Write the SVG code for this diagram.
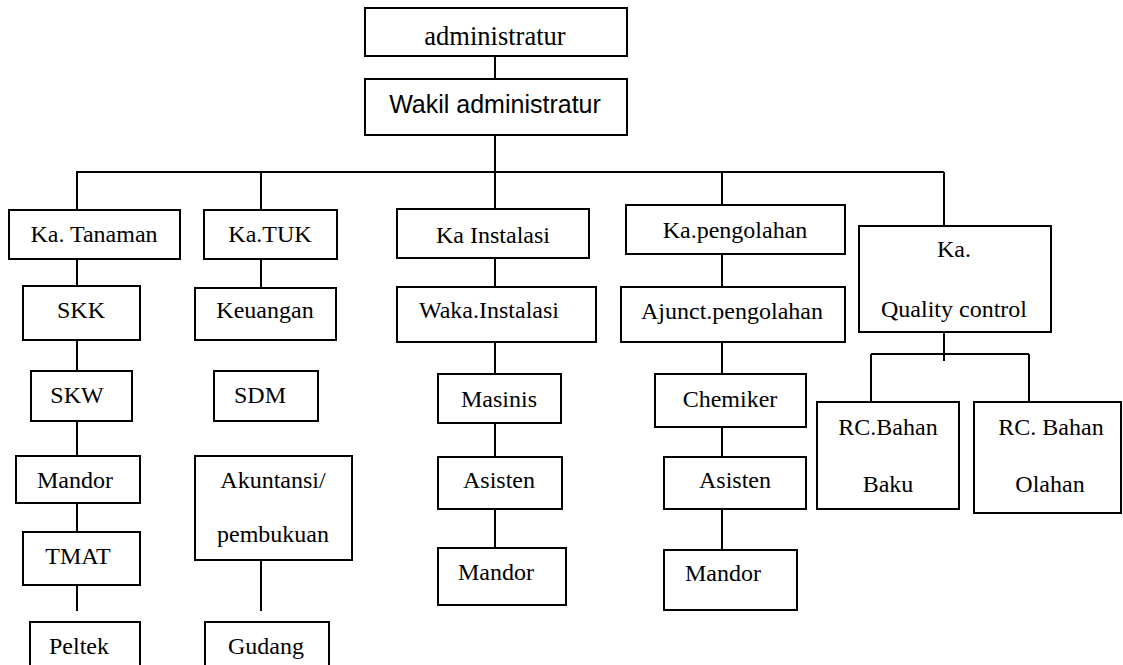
<svg xmlns="http://www.w3.org/2000/svg" width="1123" height="665" viewBox="0 0 1123 665">
<style>
rect{fill:#fff;stroke:#000;stroke-width:2}
text{font-family:"Liberation Serif","Times New Roman",serif;font-size:24px;fill:#000;text-anchor:middle}
text.big{font-size:26.5px}
text.sans{font-family:"Liberation Sans",Arial,sans-serif;font-size:25px}
#connectors path{fill:none;stroke:#000;stroke-width:2}
</style>
<rect x="0" y="0" width="1123" height="665" style="fill:#fff;stroke:none"/>
<g id="connectors">
<path d="M495 56V79M495 135V209M76 172H944M77 172V210M261 172V210M722 172V205M944 172V226"/>
<path d="M77 253V286M77 340V371M77 415V456M77 497V532M77 578V611"/>
<path d="M261 253V288M261 548V611"/>
<path d="M495 253V287M495 340V374M495 415V457M495 503V548"/>
<path d="M722 254V287M722 340V374M722 418V457M722 503V550"/>
<path d="M944 326V361M871 354H1029M871 354V402M1029 354V402"/>
</g>
<g id="administratur"><rect x="365" y="8" width="262" height="48"/><text class="big" x="495" y="45">administratur</text></g>
<g id="wakil"><rect x="365" y="79" width="262" height="56"/><text class="sans" x="495" y="113">Wakil administratur</text></g>
<g id="ka-tanaman"><rect x="9" y="210" width="171" height="49"/><text x="94" y="242">Ka. Tanaman</text></g>
<g id="ka-tuk"><rect x="204" y="210" width="133" height="49"/><text x="270" y="242">Ka.TUK</text></g>
<g id="ka-instalasi"><rect x="397" y="209" width="192" height="49"/><text x="493" y="243">Ka Instalasi</text></g>
<g id="ka-pengolahan"><rect x="626" y="205" width="219" height="49"/><text x="735" y="238">Ka.pengolahan</text></g>
<g id="ka-qc"><rect x="859" y="226" width="192" height="106"/><text x="954" y="257">Ka.</text><text x="954" y="317">Quality control</text></g>
<g id="skk"><rect x="23" y="286" width="117" height="54"/><text x="81" y="318">SKK</text></g>
<g id="keuangan"><rect x="195" y="288" width="141" height="52"/><text x="265" y="318">Keuangan</text></g>
<g id="waka-instalasi"><rect x="397" y="287" width="199" height="55"/><text x="489" y="318">Waka.Instalasi</text></g>
<g id="ajunct"><rect x="621" y="287" width="224" height="55"/><text x="732" y="319">Ajunct.pengolahan</text></g>
<g id="skw"><rect x="31" y="371" width="101" height="50"/><text x="77" y="403">SKW</text></g>
<g id="sdm"><rect x="214" y="371" width="104" height="50"/><text x="260" y="403">SDM</text></g>
<g id="masinis"><rect x="438" y="374" width="123" height="49"/><text x="499" y="407">Masinis</text></g>
<g id="chemiker"><rect x="655" y="374" width="151" height="53"/><text x="730" y="407">Chemiker</text></g>
<g id="mandor-tanaman"><rect x="16" y="456" width="124" height="47"/><text x="75" y="488">Mandor</text></g>
<g id="akuntansi"><rect x="195" y="456" width="157" height="104"/><text x="273" y="488">Akuntansi/</text><text x="273" y="542">pembukuan</text></g>
<g id="asisten-instalasi"><rect x="438" y="457" width="124" height="52"/><text x="499" y="488">Asisten</text></g>
<g id="asisten-pengolahan"><rect x="664" y="457" width="142" height="52"/><text x="735" y="488">Asisten</text></g>
<g id="tmat"><rect x="23" y="532" width="117" height="53"/><text x="78" y="564">TMAT</text></g>
<g id="mandor-instalasi"><rect x="438" y="548" width="128" height="57"/><text x="496" y="580">Mandor</text></g>
<g id="mandor-pengolahan"><rect x="664" y="550" width="133" height="60"/><text x="723" y="581">Mandor</text></g>
<g id="rc-baku"><rect x="817" y="402" width="142" height="107"/><text x="888" y="435">RC.Bahan</text><text x="888" y="492">Baku</text></g>
<g id="rc-olahan"><rect x="974" y="402" width="147" height="111"/><text x="1051" y="435">RC. Bahan</text><text x="1050" y="492">Olahan</text></g>
<g id="peltek"><rect x="30" y="622" width="110" height="50"/><text x="79" y="654">Peltek</text></g>
<g id="gudang"><rect x="205" y="622" width="124" height="50"/><text x="266" y="654">Gudang</text></g>
</svg>
